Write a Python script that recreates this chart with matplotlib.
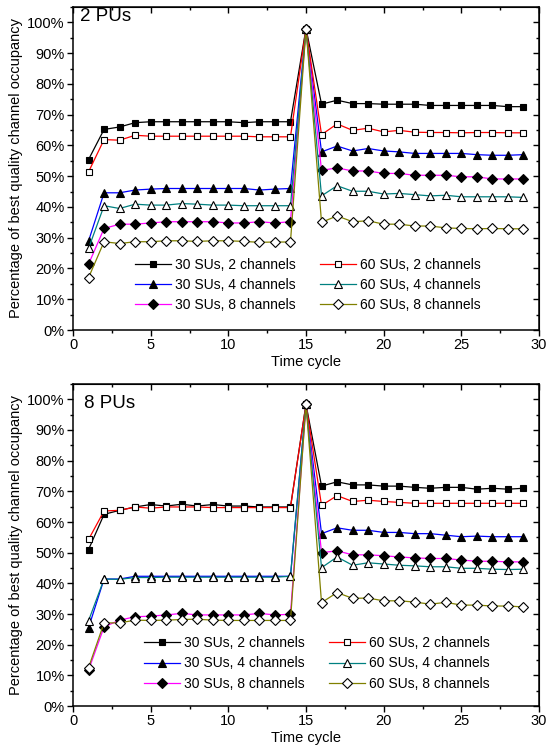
import matplotlib
matplotlib.use("Agg")
import matplotlib.pyplot as plt
from matplotlib.ticker import MultipleLocator, FuncFormatter

plt.rcParams['font.family'] = ['Liberation Sans', 'DejaVu Sans']

x = list(range(1, 30))

# ---- 2 PUs ----
p2_30_2 = [55.4, 65.2, 66.0, 67.4, 67.7, 67.7, 67.7, 67.7, 67.7, 67.7, 67.4, 67.7, 67.7, 67.7, 98.0,
           73.4, 74.7, 73.6, 73.6, 73.4, 73.4, 73.4, 73.0, 73.0, 73.0, 73.0, 73.0, 72.6, 72.6]
p2_60_2 = [51.4, 61.9, 61.7, 63.3, 63.0, 63.0, 63.0, 63.0, 63.0, 63.0, 63.0, 62.8, 62.8, 62.8, 98.0,
           63.5, 67.0, 64.9, 65.6, 64.4, 64.9, 64.3, 64.2, 64.2, 64.1, 64.2, 64.2, 64.1, 64.1]
p2_30_4 = [28.9, 44.6, 44.6, 45.5, 45.8, 46.0, 46.0, 46.0, 46.0, 46.0, 46.0, 45.5, 45.8, 46.0, 98.0,
           57.9, 59.8, 58.2, 59.0, 58.2, 57.9, 57.4, 57.4, 57.4, 57.4, 57.0, 56.8, 56.8, 57.0]
p2_60_4 = [26.5, 40.4, 39.5, 40.9, 40.6, 40.6, 41.1, 40.9, 40.6, 40.6, 40.4, 40.4, 40.4, 40.4, 98.0,
           43.6, 46.9, 45.1, 45.1, 44.2, 44.4, 44.0, 43.6, 43.8, 43.3, 43.3, 43.3, 43.3, 43.1]
p2_30_8 = [21.4, 33.0, 34.4, 34.4, 34.8, 35.2, 35.2, 35.2, 35.2, 34.8, 34.8, 35.2, 34.8, 35.2, 98.0,
           51.9, 52.7, 51.7, 51.7, 50.9, 50.9, 50.3, 50.3, 50.3, 49.8, 49.8, 49.1, 49.1, 49.1]
p2_60_8 = [17.0, 28.7, 28.1, 28.7, 28.7, 29.0, 29.0, 28.8, 29.0, 29.0, 28.8, 28.5, 28.6, 28.6, 98.0,
           35.0, 37.1, 35.2, 35.5, 34.4, 34.4, 33.8, 33.8, 33.2, 33.0, 32.9, 33.0, 32.9, 32.9]

# ---- 8 PUs ----
p8_30_2 = [51.0, 62.5, 63.8, 64.9, 65.7, 65.2, 65.8, 65.2, 65.7, 65.2, 65.2, 64.9, 64.9, 64.9, 98.4,
           71.7, 73.1, 72.1, 72.1, 71.7, 71.7, 71.3, 71.0, 71.3, 71.3, 70.7, 71.0, 70.7, 71.0]
p8_60_2 = [54.3, 63.6, 63.8, 64.9, 64.5, 64.9, 64.9, 64.9, 64.7, 64.7, 64.7, 64.7, 64.7, 64.7, 98.4,
           65.4, 68.6, 66.7, 67.1, 66.7, 66.4, 66.1, 66.1, 66.1, 66.1, 66.1, 66.1, 66.1, 66.1]
p8_30_4 = [25.5, 41.4, 41.4, 42.3, 42.3, 42.3, 42.3, 42.3, 42.3, 42.3, 42.3, 42.3, 42.3, 42.3, 98.4,
           56.2, 58.1, 57.3, 57.3, 56.6, 56.6, 56.2, 56.2, 55.7, 55.2, 55.4, 55.2, 55.2, 55.2]
p8_60_4 = [27.8, 41.4, 41.3, 41.9, 41.9, 42.0, 42.0, 42.0, 42.0, 42.0, 42.0, 42.0, 42.0, 42.3, 98.4,
           45.1, 48.6, 45.9, 46.7, 46.3, 45.9, 45.7, 45.4, 45.4, 44.9, 44.9, 44.6, 44.5, 44.6]
p8_30_8 = [11.7, 25.8, 28.0, 29.1, 29.3, 29.7, 30.2, 29.7, 29.7, 29.7, 29.7, 30.2, 29.7, 29.9, 98.4,
           50.0, 50.6, 49.3, 49.3, 49.0, 48.6, 48.3, 48.1, 48.1, 47.6, 47.2, 47.2, 47.0, 47.0]
p8_60_8 = [12.5, 27.1, 27.1, 28.0, 27.9, 28.0, 28.2, 28.3, 28.0, 27.9, 27.9, 27.9, 27.9, 27.9, 98.4,
           33.7, 37.0, 35.1, 35.2, 34.3, 34.3, 33.9, 33.2, 33.8, 32.9, 32.9, 32.6, 32.6, 32.3]

labels = ["30 SUs, 2 channels", "30 SUs, 4 channels", "30 SUs, 8 channels",
          "60 SUs, 2 channels", "60 SUs, 4 channels", "60 SUs, 8 channels"]
panel_titles = ["2 PUs", "8 PUs"]

styles = [
    dict(color='black', marker='s', mfc='black', mec='black', ms=5.0),
    dict(color='blue', marker='^', mfc='black', mec='black', ms=6.2),
    dict(color='magenta', marker='D', mfc='black', mec='black', ms=5.0),
    dict(color='red', marker='s', mfc='white', mec='black', ms=5.0),
    dict(color='#008080', marker='^', mfc='white', mec='black', ms=6.2),
    dict(color='#808000', marker='D', mfc='white', mec='black', ms=5.0),
]

data = [
    [p2_30_2, p2_30_4, p2_30_8, p2_60_2, p2_60_4, p2_60_8],
    [p8_30_2, p8_30_4, p8_30_8, p8_60_2, p8_60_4, p8_60_8],
]

fig = plt.figure(figsize=(5.46, 7.52), dpi=100)
axes_rects = [
    [73 / 546, (752 - 330) / 752, 466 / 546, 323 / 752],
    [73 / 546, (752 - 706) / 752, 466 / 546, 322 / 752],
]
leg_anchor = [(0.132, 0.224), (0.152, 0.217)]
title_pos = [(0.015, 0.997), (0.024, 0.967)]

draw_order = [0, 3, 1, 4, 2, 5]

for k in range(2):
    ax = fig.add_axes(axes_rects[k])
    handles = [None] * 6
    for i in draw_order:
        st = styles[i]
        h, = ax.plot(x, data[k][i], color=st['color'], lw=0.9, marker=st['marker'],
                     markersize=st['ms'], markerfacecolor=st['mfc'], markeredgecolor=st['mec'],
                     markeredgewidth=0.8, label=labels[i], zorder=3 + i * 0.1)
        handles[i] = h
    ax.set_xlim(0, 30)
    ax.set_ylim(0, 105)
    ax.xaxis.set_major_locator(MultipleLocator(5))
    ax.xaxis.set_minor_locator(MultipleLocator(2.5))
    ax.yaxis.set_major_locator(MultipleLocator(10))
    ax.yaxis.set_minor_locator(MultipleLocator(5))
    ax.yaxis.set_major_formatter(FuncFormatter(lambda v, p: f"{int(round(v))}%"))
    ax.tick_params(axis='both', which='major', direction='out', length=4, width=1, labelsize=10.5, pad=2)
    ax.tick_params(axis='both', which='minor', direction='out', length=2.5, width=1)
    for s in ax.spines.values():
        s.set_linewidth(1.1)
    # mirrored inward ticks on top/right
    sx = ax.secondary_xaxis('top')
    sx.xaxis.set_major_locator(MultipleLocator(5))
    sx.xaxis.set_minor_locator(MultipleLocator(2.5))
    sx.tick_params(axis='x', which='major', direction='in', length=4, width=1, labelsize=0)
    sx.tick_params(axis='x', which='minor', direction='in', length=2.5, width=1)
    sx.set_xticklabels([])
    sy = ax.secondary_yaxis('right')
    sy.yaxis.set_major_locator(MultipleLocator(10))
    sy.yaxis.set_minor_locator(MultipleLocator(5))
    sy.tick_params(axis='y', which='major', direction='in', length=4, width=1)
    sy.tick_params(axis='y', which='minor', direction='in', length=2.5, width=1)
    sy.set_yticklabels([])

    ax.set_xlabel("Time cycle", fontsize=10.5, labelpad=2)
    ax.set_ylabel("Percentage of best quality channel occupancy", fontsize=10.5, labelpad=3)
    ax.text(title_pos[k][0], title_pos[k][1], panel_titles[k], transform=ax.transAxes,
            fontsize=13.5, ha='left', va='top')
    ax.legend(handles=handles, ncol=2, loc='upper left', bbox_to_anchor=leg_anchor[k],
              frameon=False, fontsize=10, handlelength=2.6, handletextpad=0.3,
              columnspacing=1.75, labelspacing=0.45, borderpad=0, borderaxespad=0)

fig.savefig("out.png", dpi=100)
